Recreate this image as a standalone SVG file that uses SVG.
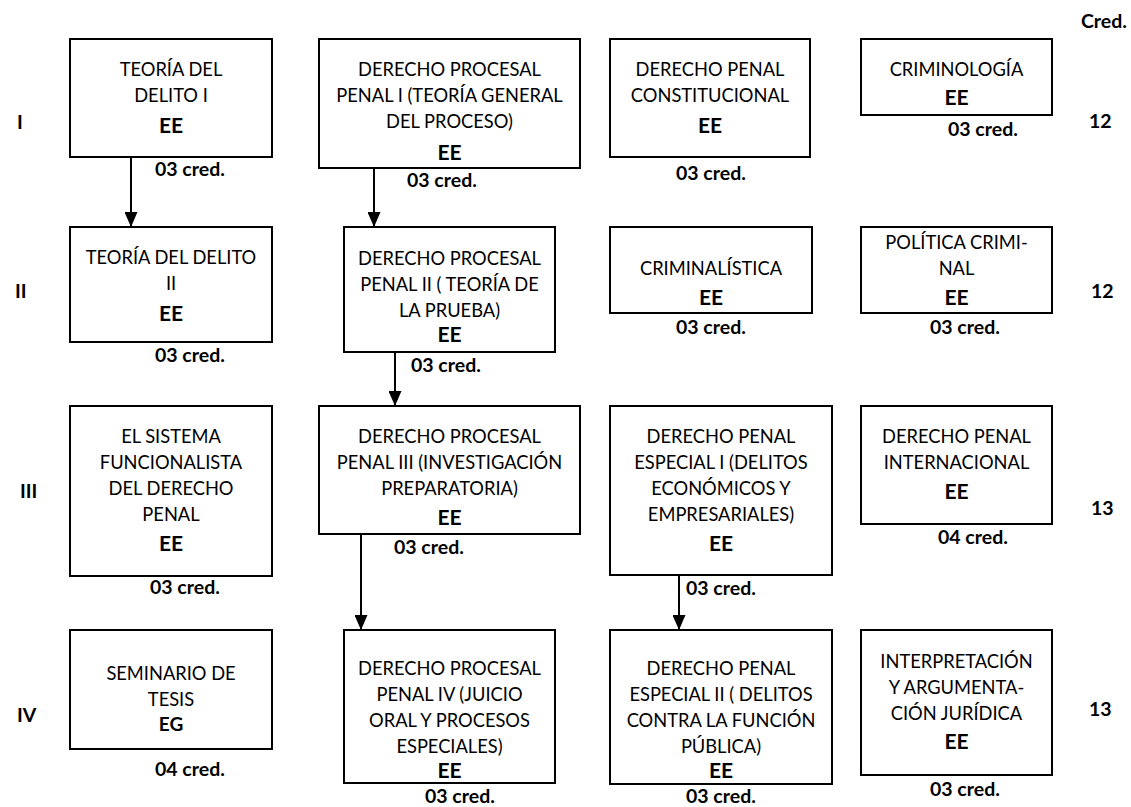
<svg xmlns="http://www.w3.org/2000/svg" width="1131" height="807" viewBox="0 0 1131 807">
<style>
.box{fill:#fff;stroke:#000;stroke-width:2}
.t{font-family:Lato,"Liberation Sans",sans-serif;font-size:18.3px;fill:#000;text-anchor:middle}
.e{font-family:Lato,"Liberation Sans",sans-serif;font-size:21px;font-weight:bold;fill:#000;text-anchor:middle}
.g{font-family:Lato,"Liberation Sans",sans-serif;font-size:19px;font-weight:bold;fill:#000;text-anchor:middle}
.c{font-family:Lato,"Liberation Sans",sans-serif;font-size:19.5px;font-weight:bold;fill:#000}
.con{stroke:#000;stroke-width:2;fill:none}
</style>
<defs>
<marker id="ah" markerUnits="userSpaceOnUse" markerWidth="15" markerHeight="13" refX="15" refY="6.5" orient="auto">
<path d="M0,0 L15,6.5 L0,13 z" fill="#000"/>
</marker>
</defs>
<rect width="1131" height="807" fill="#fff"/>

<g id="header">
<text class="c" x="1081" y="28">Cred.</text>
<text class="c" x="17" y="129">I</text>
<text class="c" x="15" y="298">II</text>
<text class="c" x="20" y="498">III</text>
<text class="c" x="17" y="722">IV</text>
<text class="c" x="1089" y="128">12</text>
<text class="c" x="1091" y="298">12</text>
<text class="c" x="1091" y="515">13</text>
<text class="c" x="1089" y="716">13</text>
</g>

<g id="connectors">
<line class="con" x1="131" y1="158" x2="131" y2="227" marker-end="url(#ah)"/>
<line class="con" x1="374" y1="169" x2="374" y2="227" marker-end="url(#ah)"/>
<line class="con" x1="395" y1="353" x2="395" y2="406" marker-end="url(#ah)"/>
<line class="con" x1="361" y1="535" x2="361" y2="630" marker-end="url(#ah)"/>
<line class="con" x1="679" y1="576" x2="679" y2="630" marker-end="url(#ah)"/>
</g>

<g id="n-td1">
<rect class="box" x="70" y="39" width="202" height="118"/>
<text class="t" x="171" y="76">TEORÍA DEL</text>
<text class="t" x="171" y="102">DELITO I</text>
<text class="e" x="171" y="133">EE</text>
<text class="c" x="155" y="176">03 cred.</text>
</g>

<g id="n-dpp1">
<rect class="box" x="319" y="39" width="261" height="129"/>
<text class="t" x="449.5" y="76">DERECHO PROCESAL</text>
<text class="t" x="449.5" y="102">PENAL I (TEORÍA GENERAL</text>
<text class="t" x="449.5" y="128">DEL PROCESO)</text>
<text class="e" x="449.5" y="160">EE</text>
<text class="c" x="407" y="187">03 cred.</text>
</g>

<g id="n-dpc">
<rect class="box" x="610" y="39" width="200" height="118"/>
<text class="t" x="710" y="76">DERECHO PENAL</text>
<text class="t" x="710" y="102">CONSTITUCIONAL</text>
<text class="e" x="710" y="133">EE</text>
<text class="c" x="676" y="180">03 cred.</text>
</g>

<g id="n-crim">
<rect class="box" x="861" y="39" width="191" height="76"/>
<text class="t" x="956.5" y="76">CRIMINOLOGÍA</text>
<text class="e" x="956.5" y="105">EE</text>
<text class="c" x="948" y="136">03 cred.</text>
</g>

<g id="n-td2">
<rect class="box" x="70" y="227" width="202" height="115"/>
<text class="t" x="171" y="264">TEORÍA DEL DELITO</text>
<text class="t" x="171" y="290">II</text>
<text class="e" x="171" y="321">EE</text>
<text class="c" x="155" y="362">03 cred.</text>
</g>

<g id="n-dpp2">
<rect class="box" x="344" y="227" width="211" height="125"/>
<text class="t" x="449.5" y="265">DERECHO PROCESAL</text>
<text class="t" x="449.5" y="291">PENAL II ( TEORÍA DE</text>
<text class="t" x="449.5" y="317">LA PRUEBA)</text>
<text class="e" x="449.5" y="342">EE</text>
<text class="c" x="411" y="372">03 cred.</text>
</g>

<g id="n-crimin">
<rect class="box" x="610" y="227" width="202" height="86"/>
<text class="t" x="711" y="275">CRIMINALÍSTICA</text>
<text class="e" x="711" y="305">EE</text>
<text class="c" x="676" y="334">03 cred.</text>
</g>

<g id="n-polcrim">
<rect class="box" x="861" y="227" width="191" height="86"/>
<text class="t" x="956.5" y="249">POLÍTICA CRIMI-</text>
<text class="t" x="956.5" y="275">NAL</text>
<text class="e" x="956.5" y="305">EE</text>
<text class="c" x="930" y="334">03 cred.</text>
</g>

<g id="n-sf">
<rect class="box" x="70" y="406" width="202" height="170"/>
<text class="t" x="171" y="443">EL SISTEMA</text>
<text class="t" x="171" y="469">FUNCIONALISTA</text>
<text class="t" x="171" y="495">DEL DERECHO</text>
<text class="t" x="171" y="521">PENAL</text>
<text class="e" x="171" y="551">EE</text>
<text class="c" x="150" y="594">03 cred.</text>
</g>

<g id="n-dpp3">
<rect class="box" x="319" y="406" width="261" height="128"/>
<text class="t" x="449.5" y="443">DERECHO PROCESAL</text>
<text class="t" x="449.5" y="469">PENAL III (INVESTIGACIÓN</text>
<text class="t" x="449.5" y="495">PREPARATORIA)</text>
<text class="e" x="449.5" y="525">EE</text>
<text class="c" x="394" y="554">03 cred.</text>
</g>

<g id="n-dpe1">
<rect class="box" x="610" y="406" width="222" height="169"/>
<text class="t" x="721" y="443">DERECHO PENAL</text>
<text class="t" x="721" y="469">ESPECIAL I (DELITOS</text>
<text class="t" x="721" y="495">ECONÓMICOS Y</text>
<text class="t" x="721" y="521">EMPRESARIALES)</text>
<text class="e" x="721" y="551">EE</text>
<text class="c" x="686" y="595">03 cred.</text>
</g>

<g id="n-dpi">
<rect class="box" x="861" y="406" width="191" height="118"/>
<text class="t" x="956.5" y="443">DERECHO PENAL</text>
<text class="t" x="956.5" y="469">INTERNACIONAL</text>
<text class="e" x="956.5" y="499">EE</text>
<text class="c" x="938" y="544">04 cred.</text>
</g>

<g id="n-sem">
<rect class="box" x="70" y="630" width="202" height="119"/>
<text class="t" x="171" y="680">SEMINARIO DE</text>
<text class="t" x="171" y="706">TESIS</text>
<text class="g" x="171" y="731">EG</text>
<text class="c" x="155" y="776">04 cred.</text>
</g>

<g id="n-dpp4">
<rect class="box" x="344" y="630" width="211" height="153"/>
<text class="t" x="449.5" y="675">DERECHO PROCESAL</text>
<text class="t" x="449.5" y="701">PENAL IV (JUICIO</text>
<text class="t" x="449.5" y="727">ORAL Y PROCESOS</text>
<text class="t" x="449.5" y="753">ESPECIALES)</text>
<text class="e" x="449.5" y="778">EE</text>
<text class="c" x="425" y="803">03 cred.</text>
</g>

<g id="n-dpe2">
<rect class="box" x="610" y="630" width="222" height="154"/>
<text class="t" x="721" y="675">DERECHO PENAL</text>
<text class="t" x="721" y="701">ESPECIAL II ( DELITOS</text>
<text class="t" x="721" y="727">CONTRA LA FUNCIÓN</text>
<text class="t" x="721" y="753">PÚBLICA)</text>
<text class="e" x="721" y="778">EE</text>
<text class="c" x="686" y="803">03 cred.</text>
</g>

<g id="n-iaj">
<rect class="box" x="861" y="630" width="191" height="145"/>
<text class="t" x="956.5" y="668">INTERPRETACIÓN</text>
<text class="t" x="956.5" y="694">Y ARGUMENTA-</text>
<text class="t" x="956.5" y="720">CIÓN JURÍDICA</text>
<text class="e" x="956.5" y="749">EE</text>
<text class="c" x="930" y="796">03 cred.</text>
</g>
</svg>
